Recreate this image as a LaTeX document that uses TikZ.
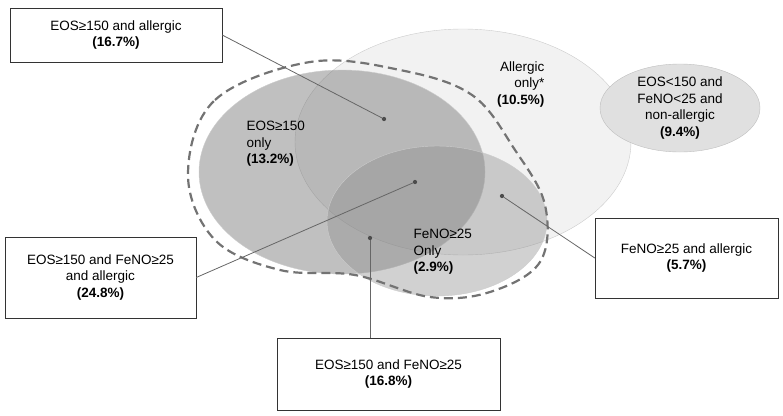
\documentclass[tikz,border=0pt]{standalone}
\usepackage{fontspec}
\setmainfont{Liberation Sans}
\begin{document}
\begin{tikzpicture}[x=1pt,y=-1pt,font=\fontsize{13.5}{16.5}\selectfont,
  box/.style={draw=black!80,fill=white,align=center,inner sep=0pt},
  lead/.style={draw=black!60,line width=0.8pt},
  dot/.style={circle,fill=black!70,inner sep=1.5pt}]
\useasboundingbox (0,0) rectangle (783,415);
\fill[black!5,draw=black!20] (463,142) ellipse [x radius=168,y radius=113];
\fill[black!55,fill opacity=0.45,draw=black!20] (342,172) ellipse [x radius=143,y radius=102];
\fill[black!45,fill opacity=0.4,draw=black!20] (437,221) ellipse [x radius=110,y radius=75];
\draw[black!55,line width=2.2pt,dash pattern=on 9pt off 5pt] plot[smooth cycle,tension=0.6] coordinates
 {(188,175) (215,100) (310,62) (400,70) (472,95) (515,150) (545,205) (540,262) (490,292) (430,297) (355,275) (280,270) (215,240)};
\fill[black!12,draw=black!25] (680,108) ellipse [x radius=80,y radius=44];
\node[align=center] (negt) at (680,108) {EOS<150 and\\FeNO<25 and\\non-allergic\\\textbf{(9.4\%)}};
\node[align=left,anchor=north west] (eos) at (243,118) {EOS≥150\\only\\\textbf{(13.2\%)}};
\node[align=right,anchor=north east] (all) at (548,58) {Allergic\\only*\\\textbf{(10.5\%)}};
\node[align=left,anchor=north west] (fen) at (410,226) {FeNO≥25\\Only\\\textbf{(2.9\%)}};
\node[box,minimum width=212pt,minimum height=54pt] (b1) at (116,35) {EOS≥150 and allergic\\\textbf{(16.7\%)}};
\node[box,minimum width=191pt,minimum height=81pt] (b2) at (100.5,277.5) {EOS≥150 and FeNO≥25\\and allergic\\\textbf{(24.8\%)}};
\node[box,minimum width=183pt,minimum height=80pt] (b3) at (686.5,258) {FeNO≥25 and allergic\\\textbf{(5.7\%)}};
\node[box,minimum width=223pt,minimum height=72pt] (b4) at (388.5,374) {EOS≥150 and FeNO≥25\\\textbf{(16.8\%)}};
\node[dot] (d1) at (384,119) {};
\node[dot] (d2) at (415,182) {};
\node[dot] (d3) at (502,196) {};
\node[dot] (d4) at (370,238) {};
\draw[lead] (b1.east) -- (d1);
\draw[lead] (b2.east) -- (d2);
\draw[lead] (b3.west) -- (d3);
\draw[lead] (b4.north -| d4) -- (d4);
\end{tikzpicture}
\end{document}
